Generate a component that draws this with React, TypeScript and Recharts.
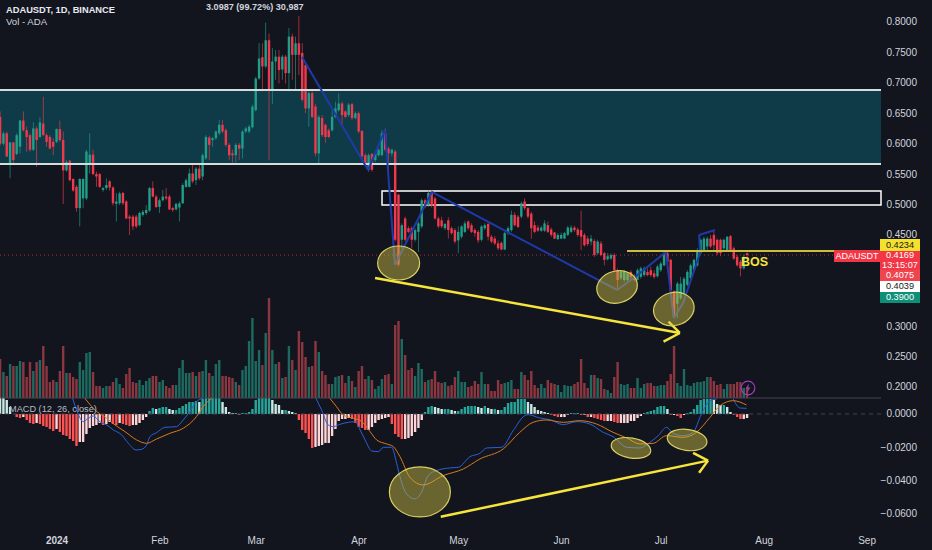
import {
  ComposedChart,
  Bar,
  Line,
  XAxis,
  YAxis,
  ReferenceArea,
  ReferenceLine,
  ReferenceDot,
} from "recharts";

// ADAUSDT daily candles, index 0 = 15 Dec 2023
const opens = [
  .644, .600, .617, .568, .602, .583, .595, .638, .622, .614, .590, .625,
  .611, .633, .614, .611, .603, .603, .624, .606, .556, .572,
  .542, .529, .494, .510, .510, .568, .582, .550, .550, .524,
  .527, .538, .528, .501, .502, .519, .505, .480, .480, .480,
  .466, .483, .486, .490, .527, .513, .496, .507, .513, .513,
  .494, .492, .495, .502, .529, .529, .551, .540, .559, .546,
  .576, .610, .606, .609, .617, .631, .622, .598, .584, .581,
  .598, .592, .620, .620, .627, .655, .707, .742, .727, .770,
  .688, .735, .743, .722, .743, .716, .776, .746,
  .765, .749, .729, .658, .683, .661, .584, .642, .631, .622,
  .622, .644, .655, .666, .653, .647, .665, .642, .650, .621,
  .581, .557, .583, .573, .581, .581, .617, .592, .584, .587,
  .516, .442, .477, .461, .461, .442, .455, .464, .507, .499,
  .521, .510, .477, .474, .461, .474, .461, .458, .441, .447,
  .455, .472, .466, .458, .455, .442, .461, .468, .447, .444,
  .436, .437, .426, .453, .458, .483, .480, .480, .505, .494,
  .485, .466, .462, .457, .457, .466, .459, .454, .443, .444,
  .444, .450, .455, .462, .459, .458, .450, .444, .439, .440,
  .420, .436, .420, .410, .411, .417, .392, .379, .376, .376,
  .389, .382, .376, .381, .384, .389, .392, .387, .382, .392,
  .400, .420, .409, .357, .337, .346, .354, .368, .379, .392,
  .400, .420, .425, .431, .444, .450, .442, .442, .428, .425,
  .448, .428, .414, .406, .395, .420,
];
const highs = [
  .653, .620, .620, .603, .603, .617, .639, .653, .628, .617, .635, .628,
  .643, .677, .617, .614, .609, .625, .638, .620, .573, .573,
  .543, .532, .543, .543, .590, .617, .590, .554, .552, .529,
  .543, .540, .530, .519, .521, .521, .507, .483, .483, .483,
  .488, .491, .499, .529, .538, .516, .510, .524, .527, .516,
  .496, .503, .505, .535, .543, .559, .565, .562, .565, .584,
  .614, .613, .611, .622, .639, .639, .625, .601, .590, .601,
  .601, .622, .628, .631, .664, .710, .765, .765, .799, .781,
  .757, .754, .754, .746, .746, .790, .781, .776,
  .810, .765, .732, .686, .686, .665, .647, .647, .633, .625,
  .655, .669, .683, .669, .655, .667, .667, .653, .653, .622,
  .584, .584, .585, .587, .592, .622, .625, .595, .592, .590,
  .518, .469, .480, .464, .464, .461, .472, .510, .510, .523,
  .524, .513, .480, .480, .470, .479, .464, .461, .464, .466,
  .473, .474, .469, .461, .458, .466, .469, .470, .450, .448,
  .441, .439, .455, .464, .490, .487, .483, .505, .510, .496,
  .488, .472, .466, .465, .474, .472, .462, .455, .453, .454,
  .455, .465, .466, .465, .462, .490, .453, .448, .450, .443,
  .442, .440, .422, .420, .420, .420, .395, .392, .392, .389,
  .392, .386, .395, .398, .398, .395, .398, .392, .401, .406,
  .422, .422, .411, .359, .373, .381, .381, .392, .403, .411,
  .428, .444, .447, .447, .450, .458, .444, .444, .444, .448,
  .450, .431, .417, .409, .418, .421,
];
const lows = [
  .597, .597, .578, .543, .568, .581, .584, .620, .587, .587, .588, .562,
  .609, .613, .595, .591, .581, .601, .603, .501, .554, .538,
  .521, .488, .464, .494, .507, .551, .548, .529, .527, .521,
  .524, .523, .498, .472, .499, .499, .476, .450, .458, .461,
  .464, .480, .483, .488, .512, .494, .486, .505, .507, .491,
  .488, .490, .472, .501, .527, .528, .535, .532, .540, .540,
  .573, .573, .595, .606, .614, .617, .595, .573, .569, .569,
  .573, .576, .617, .617, .625, .653, .705, .686, .724, .573,
  .665, .705, .699, .705, .699, .686, .705, .688,
  .713, .669, .650, .628, .642, .579, .568, .611, .601, .609,
  .620, .642, .653, .628, .642, .644, .639, .640, .617, .576,
  .562, .554, .554, .570, .579, .580, .587, .557, .579, .439,
  .398, .428, .439, .453, .428, .439, .422, .461, .494, .496,
  .495, .475, .461, .461, .458, .444, .450, .436, .420, .444,
  .453, .458, .453, .447, .437, .439, .458, .441, .436, .433,
  .425, .425, .425, .450, .455, .464, .461, .477, .491, .477,
  .444, .453, .455, .455, .455, .453, .447, .443, .442, .443,
  .443, .448, .453, .455, .447, .425, .431, .432, .433, .414,
  .417, .415, .400, .408, .409, .389, .359, .376, .373, .373,
  .376, .373, .375, .378, .381, .382, .381, .378, .380, .389,
  .398, .403, .357, .313, .313, .343, .351, .365, .376, .389,
  .398, .417, .422, .425, .428, .425, .417, .415, .425, .422,
  .422, .409, .398, .382, .393, .410,
];
const closes = [
  .600, .617, .579, .602, .573, .614, .638, .622, .611, .590, .625, .606,
  .635, .614, .603, .592, .595, .624, .606, .556, .570, .540,
  .523, .494, .542, .542, .587, .582, .550, .546, .529, .527,
  .532, .528, .502, .505, .518, .502, .477, .477, .464, .464,
  .486, .488, .491, .527, .513, .496, .507, .513, .510, .492,
  .491, .501, .502, .532, .540, .551, .538, .559, .543, .581,
  .611, .598, .609, .620, .631, .620, .598, .581, .581, .598,
  .592, .620, .625, .628, .661, .707, .740, .727, .770, .688,
  .735, .743, .721, .743, .716, .776, .746, .765,
  .746, .672, .658, .683, .644, .584, .644, .614, .611, .611,
  .644, .658, .666, .647, .644, .664, .642, .650, .620, .579,
  .568, .581, .557, .584, .590, .617, .590, .584, .590, .442,
  .401, .466, .442, .455, .442, .458, .469, .507, .496, .519,
  .498, .477, .464, .464, .468, .458, .453, .439, .455, .464,
  .469, .461, .455, .453, .441, .464, .466, .447, .439, .436,
  .428, .426, .453, .461, .483, .466, .463, .502, .494, .480,
  .461, .455, .457, .462, .469, .455, .450, .444, .450, .450,
  .453, .462, .462, .458, .450, .447, .433, .435, .444, .417,
  .439, .417, .409, .415, .417, .392, .376, .389, .389, .387,
  .381, .376, .392, .395, .395, .384, .384, .381, .398, .403,
  .420, .406, .359, .316, .370, .370, .378, .389, .400, .409,
  .425, .442, .444, .444, .431, .433, .420, .420, .442, .447,
  .425, .411, .400, .395, .414, .4169,
];
const volumes = [
  39, 26, 22, 34, 32, 32, 37, 36, 21, 36,
  27, 36, 38, 52, 32, 16, 18, 16, 27, 52,
  25, 25, 21, 19, 36, 28, 45, 46, 26, 12,
  12, 10, 12, 12, 16, 20, 14, 10, 24, 30,
  16, 15, 18, 13, 17, 20, 22, 22, 16, 18,
  12, 10, 13, 13, 30, 38, 25, 25, 26, 22,
  26, 27, 38, 25, 22, 34, 38, 22, 22, 21,
  20, 16, 13, 28, 32, 57, 80, 37, 48, 33,
  65, 100, 48, 34, 36, 20, 21, 52, 38, 28,
  67, 56, 41, 31, 32, 57, 46, 27, 23, 14,
  14, 21, 22, 23, 15, 22, 17, 11, 27, 32,
  19, 22, 18, 9, 12, 19, 23, 24, 14, 73,
  77, 59, 43, 28, 30, 22, 35, 29, 16, 18,
  19, 27, 16, 15, 16, 12, 13, 21, 27, 16,
  16, 11, 12, 17, 14, 26, 14, 14, 7, 7,
  18, 14, 15, 16, 18, 9, 9, 26, 23, 18,
  27, 13, 10, 14, 10, 18, 15, 14, 13, 6,
  13, 12, 12, 14, 16, 39, 15, 10, 23, 23,
  20, 19, 9, 8, 5, 21, 36, 14, 13, 14,
  10, 10, 20, 10, 14, 15, 15, 12, 12, 13,
  13, 17, 24, 52, 15, 12, 29, 13, 12, 15,
  16, 16, 17, 21, 21, 17, 13, 14, 9, 14,
  14, 14, 16, 16, 10, 10,
];
// histogram in units of 0.0001
const macdHist = [
  98, 97, 84, 42, 0, -18, -24, -18, -36, -54,
  -60, -54, -60, -72, -78, -90, -102, -90, -108, -126,
  -132, -150, -162, -192, -168, -168, -120, -84, -72, -66,
  -54, -66, -60, -48, -60, -66, -54, -60, -66, -72,
  -66, -66, -54, -36, -18, 18, 36, 30, 36, 42,
  42, 30, 24, 24, 36, 48, 60, 72, 72, 78,
  72, 90, 96, 96, 96, 96, 96, 72, 42, 12,
  6, 6, -6, 6, 6, 12, 30, 84, 96, 96,
  96, 96, 84, 60, 54, 24, 24, 18, 12, 6,
  -36, -96, -114, -150, -204, -198, -192, -186, -174, -174,
  -132, -90, -42, -30, -30, -24, -30, -54, -78, -84,
  -96, -96, -78, -54, -36, -30, -24, -18, -60, -120,
  -138, -150, -150, -144, -132, -108, -84, -36, 12, 42,
  48, 42, 36, 30, 30, 30, 24, 18, 18, 30,
  42, 48, 48, 48, 42, 36, 48, 36, 30, 30,
  24, 24, 42, 66, 72, 72, 90, 90, 90, 72,
  60, 42, 24, 18, 12, 6, -6, -12, -18, -18,
  -18, -6, 6, 6, 6, -6, -6, -18, -18, -24,
  -30, -36, -42, -42, -42, -48, -54, -54, -54, -54,
  -42, -42, -24, -12, 6, 12, 18, 24, 42, 48,
  48, 30, -6, -6, -12, -24, -6, 6, 12, 30,
  54, 84, 90, 90, 90, 84, 60, 54, 54, 42,
  12, -6, -18, -30, -30, -24,
];

// MACD / signal lines, read where they are inside the pane: [day, value]
const macdSeg1 = [[21.7, .0094], [23.1, .0014], [24.9, -.0046], [26.4, -.0026], [27.9, -.0012], [29.9, -.0046], [32, -.0066], [34, -.0096], [36.5, -.0126], [38.5, -.0176], [40.8, -.0216], [42.5, -.0212], [44, -.0186], [45, -.0136], [47, -.0112], [49.5, -.008], [53, -.0076], [55, -.0036], [57, .0014], [59, .0074], [61, .0094]];
const macdSeg2 = [[95, .0094], [96.7, .0024], [98.7, -.0066], [100.2, -.0076], [102.2, -.0062], [104.8, -.005], [106.8, -.0046], [108.3, -.0096], [109.8, -.0156], [111.8, -.0222], [113.8, -.0226], [115.3, -.02], [117.8, -.02], [119.3, -.0296], [120.3, -.0376], [122.3, -.048], [124.8, -.051], [126.8, -.047], [128.8, -.037], [131.3, -.034], [135.3, -.0324], [137.9, -.032], [141.4, -.0256], [144.4, -.0236], [146.4, -.0204], [150.9, -.02], [154.4, -.01], [157.9, -.001], [158.9, -.0004], [162.4, -.0024], [165.5, -.0034], [169.5, -.0064], [173.5, -.0046], [177.5, -.006], [181.5, -.011], [184.5, -.0136], [188.6, -.02], [192.6, -.0204], [195.6, -.017], [198.1, -.013], [200.6, -.008], [202.6, -.0116], [205.6, -.013], [208.6, -.011], [211.1, 0], [213.7, .008], [215.7, .009]];
const macdSeg3 = [[220.7, .009], [222.7, .0036], [224.7, .0034]];
const signalSeg1 = [[25.4, .0094], [29, .0014], [32, -.0026], [34.5, -.0066], [37.5, -.0106], [41, -.0156], [44, -.0176], [47, -.015], [51, -.0116], [55, -.0086], [59, -.0016], [61, .0044], [63.6, .0094]];
const signalSeg2 = [[99.2, .0094], [101.2, .0044], [103.2, -.0006], [106.3, -.0026], [108.8, -.0046], [111.3, -.0106], [113.3, -.0156], [116.3, -.018], [118.3, -.0196], [120.3, -.0256], [123.3, -.038], [127.3, -.0426], [133.3, -.037], [139.4, -.033], [144.4, -.027], [151.4, -.021], [156.4, -.011], [160.4, -.005], [164.4, -.0036], [169.5, -.005], [174.5, -.004], [179.5, -.006], [184.5, -.011], [188.6, -.0144], [192.6, -.018], [196.6, -.0176], [200.6, -.013], [205.6, -.014], [209.6, -.011], [213.7, -.002], [216.7, .005], [220.7, .008], [224.7, .0054]];

// hand drawn annotations, [day, value]
const blueZigzag = [[90.8, .7425], [110.7, .5567], [115.8, .6225], [118.8, .4005], [121.5, .4301], [129.9, .5206], [185.7, .3595], [191.1, .3808], [200.4, .4219], [202.8, .3134], [205.6, .3381], [210.7, .4203], [210.4, .4499], [215.2, .4581]];
const priceTrend = [[112.8, .3792], [204.6, .2888]];
const priceHead = [[201.2, .3074], [204.6, .2888], [199.7, .2745]];
const macdTrend = [[132.6, -.0617], [213.1, -.028]];
const macdHead = [[208.6, -.0234], [213.1, -.028], [210.4, -.0353]];
const priceEllipses = [
  { x: 119.9, y: .4038, rx: 21, ry: 17, rot: 0 },
  { x: 185.7, y: .3644, rx: 20.5, ry: 16, rot: -14 },
  { x: 202.8, y: .3282, rx: 20.5, ry: 16.5, rot: -14 },
];
const macdEllipses = [
  { x: 126.3, y: -.0468, rx: 30.5, ry: 25, rot: 0 },
  { x: 189.9, y: -.0204, rx: 20, ry: 10, rot: 10 },
  { x: 206.8, y: -.0156, rx: 20, ry: 10.5, rot: 8 },
];

const priceTicks = [.8, .75, .7, .65, .6, .55, .5, .45, .3, .25, .2];
const macdTicks = [0, -.02, -.04, -.06];
const timeTicks = [17, 48, 77, 108, 138, 169, 199, 230, 261];
const timeLabels = ["2024", "Feb", "Mar", "Apr", "May", "Jun", "Jul", "Aug", "Sep"];

const priceTags = [
  { lines: ["0.4234"], bg: "#f5e12c", color: "#131722", top: 239, height: 12 },
  { lines: ["0.4169", "13:15:07"], bg: "#f23645", color: "#fff", top: 251, height: 19 },
  { lines: ["0.4075"], bg: "#f0444f", color: "#fff", top: 270, height: 11 },
  { lines: ["0.4039"], bg: "#ffffff", color: "#131722", top: 281, height: 11 },
  { lines: ["0.3900"], bg: "#0f8f78", color: "#fff", top: 292, height: 11 },
];

const BG = "#12151e";
const GREEN = "#1f9e8a";
const RED = "#f0394d";
const TEXT = "#d1d4dc";
const FONT = "'Liberation Sans', Arial, sans-serif";
const X_DOMAIN = [-0.17, 265.2];

const rows = opens.map((open, i) => {
  const prev = macdHist[i - 1] ?? Infinity;
  const h = macdHist[i] / 10000;
  const up = closes[i] >= open;
  let histColor = "#ff5252";
  if (macdHist[i] >= 0) histColor = macdHist[i] >= prev ? "#26a69a" : "#c8e9e4";
  else if (macdHist[i] >= prev) histColor = "#ffd5d8";
  return {
    i,
    open,
    close: closes[i],
    high: highs[i],
    low: lows[i],
    range: [lows[i], highs[i]],
    vol: volumes[i],
    hist: h,
    up,
    histColor,
  };
});

const toLine = (pts: number[][]) => pts.map(([i, v]) => ({ i, v }));

function Candle(props: any) {
  const { x, y, width, height, payload } = props;
  const perPrice = height / (payload.high - payload.low);
  const top = y + (payload.high - Math.max(payload.open, payload.close)) * perPrice;
  const bodyH = Math.max(Math.abs(payload.open - payload.close) * perPrice, 1);
  const color = payload.up ? GREEN : RED;
  return (
    <g>
      <rect x={x + width / 2 - 0.4} y={y} width={0.8} height={height} fill={color} opacity={0.8} />
      <rect x={x} y={top} width={width} height={bodyH} fill={color} />
    </g>
  );
}

function VolBar(props: any) {
  const { x, y, width, height, payload } = props;
  return <rect x={x} y={y} width={width} height={height} fill={payload.up ? "#1c6a60" : "#8c3640"} />;
}

function HistBar(props: any) {
  const { x, y, width, height, payload } = props;
  return (
    <rect
      x={x}
      y={Math.min(y, y + height)}
      width={width}
      height={Math.abs(height)}
      fill={payload.histColor}
    />
  );
}

function ValueTick(props: any) {
  const { y, payload } = props;
  const text = payload.value < 0 ? "\u2212" + Math.abs(payload.value).toFixed(4) : payload.value.toFixed(4);
  return (
    <text x={917} y={y} textAnchor="end" dominantBaseline="central" fill={TEXT} fontSize={10} fontFamily={FONT}>
      {text}
    </text>
  );
}

function TimeTick(props: any) {
  const { x, payload } = props;
  const idx = timeTicks.indexOf(payload.value);
  return (
    <text
      x={x}
      y={540}
      textAnchor="middle"
      dominantBaseline="central"
      fill={TEXT}
      fontSize={10}
      fontWeight={idx === 0 ? 700 : 400}
      fontFamily={FONT}
    >
      {timeLabels[idx]}
    </text>
  );
}

function segments(pts: number[][], stroke: string, width: number, xId: string, yId: string, key: string) {
  return pts.slice(1).map((p, n) => (
    <ReferenceLine
      key={key + n}
      xAxisId={xId}
      yAxisId={yId}
      segment={[
        { x: pts[n][0], y: pts[n][1] },
        { x: p[0], y: p[1] },
      ]}
      stroke={stroke}
      strokeWidth={width}
      ifOverflow="visible"
    />
  ));
}

function ellipses(list: any[], xId: string, yId: string) {
  return list.map((e, n) => (
    <ReferenceDot
      key={yId + n}
      xAxisId={xId}
      yAxisId={yId}
      x={e.x}
      y={e.y}
      ifOverflow="visible"
      shape={(p: any) => (
        <ellipse
          cx={p.cx}
          cy={p.cy}
          rx={e.rx}
          ry={e.ry}
          transform={`rotate(${e.rot} ${p.cx} ${p.cy})`}
          fill="#c9bd45"
          fillOpacity={0.48}
          stroke="#d8d060"
          strokeWidth={1.2}
        />
      )}
    />
  ));
}

function macdLine(pts: number[][], stroke: string, key: string) {
  return (
    <Line
      key={key}
      xAxisId="lines"
      yAxisId="macd"
      data={toLine(pts)}
      dataKey="v"
      stroke={stroke}
      strokeWidth={1}
      dot={false}
      activeDot={false}
      type="monotone"
      legendType="none"
      isAnimationActive={false}
    />
  );
}

export default function App() {
  return (
    <div style={{ position: "relative", width: 932, height: 550, overflow: "hidden", background: BG, fontFamily: FONT }}>
      <style>{`body{margin:0;background:${BG}}`}</style>
      <ComposedChart width={932} height={550} data={rows} margin={{ top: 0, right: 0, bottom: 0, left: 0 }}>
        <XAxis xAxisId="px" dataKey="i" type="number" domain={X_DOMAIN} allowDataOverflow hide />
        <XAxis xAxisId="vol" dataKey="i" type="number" domain={X_DOMAIN} allowDataOverflow hide />
        <XAxis xAxisId="lines" dataKey="i" type="number" domain={X_DOMAIN} allowDataOverflow hide />
        <XAxis
          xAxisId="time"
          dataKey="i"
          type="number"
          domain={X_DOMAIN}
          allowDataOverflow
          ticks={timeTicks}
          interval={0}
          height={22}
          axisLine={false}
          tickLine={false}
          tick={<TimeTick />}
        />
        <YAxis
          yAxisId="price"
          orientation="right"
          domain={[-0.03178, 0.83616]}
          allowDataOverflow
          ticks={priceTicks}
          interval={0}
          width={50}
          axisLine={false}
          tickLine={false}
          tick={<ValueTick />}
        />
        <YAxis
          yAxisId="macd"
          orientation="right"
          domain={[-0.06847, 0.24865]}
          allowDataOverflow
          ticks={macdTicks}
          interval={0}
          width={1}
          axisLine={false}
          tickLine={false}
          tick={<ValueTick />}
        />
        <YAxis yAxisId="volume" domain={[-130, 398]} allowDataOverflow hide />

        <ReferenceArea xAxisId="px" yAxisId="price" y1={0.5666} y2={0.6882} fill="#0f3b48" fillOpacity={1} stroke="none" ifOverflow="visible" />
        <ReferenceLine xAxisId="px" yAxisId="price" y={0.6882} stroke="#d5dcdc" strokeWidth={2} />
        <ReferenceLine xAxisId="px" yAxisId="price" y={0.5666} stroke="#d5dcdc" strokeWidth={2} />
        <ReferenceArea xAxisId="px" yAxisId="price" x1={114.9} x2={265.2} y1={0.4992} y2={0.5222} fill="#0b0e15" fillOpacity={0.7} stroke="#ffffff" strokeWidth={1.5} ifOverflow="visible" />
        <ReferenceLine xAxisId="px" yAxisId="price" y={0.4169} stroke="#f23645" strokeOpacity={0.7} strokeDasharray="1 3" />
        <ReferenceLine xAxisId="px" yAxisId="price" y={0.1819} stroke="#434651" strokeWidth={1} />
        <ReferenceLine xAxisId="time" yAxisId="macd" y={0} stroke="#434651" strokeDasharray="4 4" />

        <Bar xAxisId="vol" yAxisId="volume" dataKey="vol" barSize={2.4} shape={<VolBar />} isAnimationActive={false} />
        <Bar xAxisId="time" yAxisId="macd" dataKey="hist" barSize={2.4} shape={<HistBar />} isAnimationActive={false} />
        <Bar xAxisId="px" yAxisId="price" dataKey="range" barSize={2.4} shape={<Candle />} isAnimationActive={false} />

        {macdLine(macdSeg1, "#2b5fd9", "m1")}
        {macdLine(macdSeg2, "#2b5fd9", "m2")}
        {macdLine(macdSeg3, "#2b5fd9", "m3")}
        {macdLine(signalSeg1, "#d9791f", "s1")}
        {macdLine(signalSeg2, "#d9791f", "s2")}

        {segments(blueZigzag, "#1e3aa8", 2, "px", "price", "zig")}
        <ReferenceLine
          xAxisId="px"
          yAxisId="price"
          segment={[{ x: 188.7, y: 0.4234 }, { x: 265.2, y: 0.4234 }]}
          stroke="#c9bf3c"
          strokeWidth={2}
          ifOverflow="visible"
        />
        {ellipses(priceEllipses, "px", "price")}
        {ellipses(macdEllipses, "time", "macd")}
        {segments(priceTrend, "#f7e53b", 2.5, "px", "price", "pt")}
        {segments(priceHead, "#f7e53b", 2.5, "px", "price", "ph")}
        {segments(macdTrend, "#f7e53b", 2.5, "time", "macd", "mt")}
        {segments(macdHead, "#f7e53b", 2.5, "time", "macd", "mh")}
      </ComposedChart>

      <div style={{ position: "absolute", left: 6, top: 5, color: "#e8eaf0", fontSize: 9.3, lineHeight: "11px", fontWeight: 700 }}>
        ADAUSDT, 1D, BINANCE
      </div>
      <div style={{ position: "absolute", left: 6, top: 16, color: TEXT, fontSize: 9.6, lineHeight: "11px" }}>Vol - ADA</div>
      <div style={{ position: "absolute", left: 206, top: 1, color: "#d1d4dc", fontSize: 9.1, lineHeight: "12px", fontWeight: 700 }}>
        3.0987 (99.72%) 30,987
      </div>
      <div style={{ position: "absolute", left: 9, top: 403, color: "#b8bcc6", fontSize: 9.2, lineHeight: "12px" }}>MACD (12, 26, close)</div>
      <div style={{ position: "absolute", left: 741, top: 253, color: "#f5e33a", fontSize: 12.5, lineHeight: "18px", fontWeight: 700 }}>BOS</div>

      <div style={{ position: "absolute", left: 834, top: 250, width: 46, height: 12, background: "#f23645", color: "#fff", fontSize: 9, lineHeight: "12px", textAlign: "center" }}>
        ADAUSDT
      </div>
      {priceTags.map((t) => (
        <div
          key={t.lines[0]}
          style={{ position: "absolute", left: 880, top: t.top, width: 40, height: t.height, background: t.bg, color: t.color, fontSize: 9.2, lineHeight: t.lines.length > 1 ? "9.5px" : `${t.height}px`, textAlign: "center" }}
        >
          {t.lines.map((l) => (
            <div key={l}>{l}</div>
          ))}
        </div>
      ))}

      <svg style={{ position: "absolute", left: 740, top: 380 }} width={16} height={16}>
        <circle cx={8} cy={8} r={6.8} fill="none" stroke="#9c3fb8" strokeWidth={1.2} />
        <path d="M9 3.5 L5.5 8.6 H7.8 L7 12.5 L10.5 7.4 H8.2 Z" fill="#9c3fb8" />
      </svg>
    </div>
  );
}
